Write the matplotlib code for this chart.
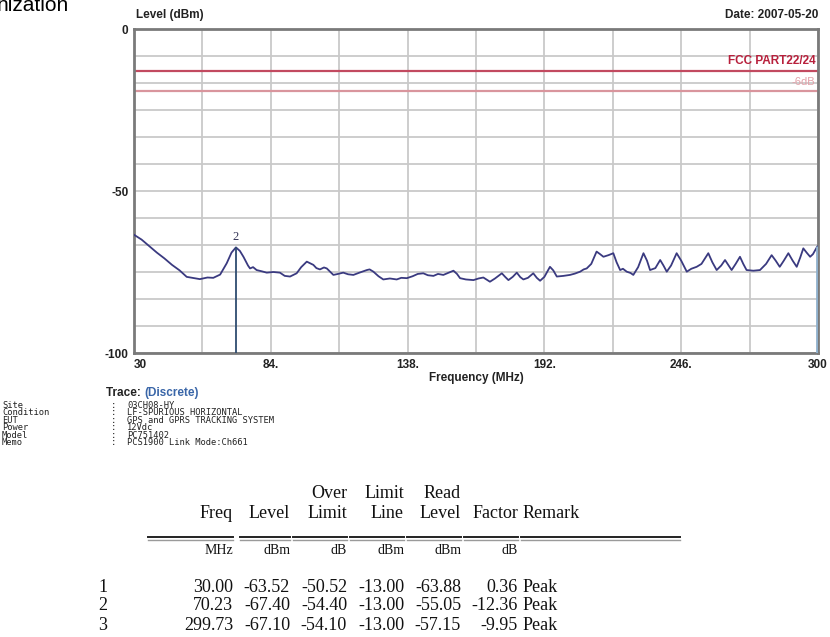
import matplotlib
matplotlib.use("Agg")
import matplotlib.pyplot as plt
import numpy as np

# ---------------- data ----------------
trace_freq = [30.0, 33, 36, 39, 42, 45, 48, 50.8, 53, 56, 59, 61.3, 64, 66.6, 68.5,
              70.23, 71.8, 73.2, 75, 75.8, 77, 78.4, 80.5, 82.4, 85, 87.6, 89.5, 91.6,
              94.2, 96, 98.2, 99.5, 100.8, 102, 103.4, 105, 106.1, 107.5, 108.7, 110.5,
              112.6, 114.5, 116.6, 119, 121.9, 123, 124.5, 126.5, 128.4, 131, 133.7,
              135.5, 137.7, 140, 142, 144.2, 146, 148.2, 150, 152.1, 154, 156.1, 157.5,
              158.7, 161, 164, 166, 167.9, 170.5, 172.5, 175.2, 176.5, 177.8, 179.5,
              181.1, 182.5, 183.7, 185.5, 187.6, 189, 190.3, 192, 194.2, 195.5, 196.9,
              199.5, 202.1, 204, 206.1, 207.5, 208.7, 210.5, 212.6, 214, 215.3, 217.3,
              219.2, 220.5, 221.9, 223, 224.5, 226, 227.1, 229, 231.1, 232.5, 233.7,
              235.8, 237.7, 239, 240.3, 242, 244.2, 246, 248.2, 250, 252.1, 254, 256.7,
              258.3, 260, 261.8, 263.3, 264.7, 265.9, 267.5, 269.2, 270.5, 271.8, 274.5,
              277.1, 279.5, 281.7, 283.3, 284.9, 286.5, 288.3, 290, 291.6, 293, 294.2,
              295.5, 296.9, 298, 299.73, 300]
trace_level = [-63.5, -65.0, -67.0, -69.0, -70.8, -72.8, -74.5, -76.5, -76.8, -77.2,
               -76.7, -76.8, -75.8, -72.3, -69.0, -67.4, -68.5, -70.3, -73.0, -73.9,
               -73.5, -74.4, -74.8, -75.2, -75.0, -75.2, -76.2, -76.4, -75.4, -73.5,
               -71.8, -72.3, -72.8, -73.8, -74.2, -73.6, -73.9, -75.0, -75.9, -75.6,
               -75.2, -75.7, -75.9, -75.2, -74.4, -74.2, -74.9, -76.3, -77.3, -77.0,
               -77.3, -76.8, -76.9, -76.3, -75.6, -75.4, -76.0, -76.2, -75.6, -75.9,
               -75.3, -74.6, -75.6, -76.9, -77.3, -77.5, -77.0, -76.7, -78.0, -77.0,
               -75.4, -76.5, -77.5, -76.5, -75.2, -76.6, -77.3, -76.8, -75.4, -76.8,
               -77.7, -76.5, -73.4, -74.5, -76.4, -76.2, -75.9, -75.5, -74.9, -74.2,
               -73.9, -72.5, -68.7, -69.5, -70.3, -69.8, -69.2, -72.0, -74.4, -74.0,
               -74.9, -75.3, -75.9, -73.5, -69.2, -71.5, -74.4, -73.8, -71.3, -73.0,
               -74.9, -73.0, -69.2, -71.5, -74.9, -74.0, -73.4, -72.5, -69.2, -72.0,
               -74.4, -73.0, -71.3, -73.0, -74.4, -72.5, -70.3, -72.5, -74.4, -74.6,
               -74.4, -72.5, -69.8, -71.5, -73.4, -71.5, -69.2, -71.5, -73.4, -70.5,
               -67.7, -69.0, -70.3, -69.5, -67.1, -67.5]

limit_level = -13.0
margin_level = -19.0  # limit minus 6 dB

x_ticks = [30, 57, 84, 111, 138, 165, 192, 219, 246, 273, 300]
x_ticklabels = ["30", "", "84.", "", "138.", "", "192.", "", "246.", "", "300"]
y_ticks = list(np.linspace(-100, 0, 13))
y_ticklabels = ["-100", "", "", "", "", "", "-50", "", "", "", "", "", "0"]

info_keys = ["Site", "Condition", "EUT", "Power", "Model", "Memo"]
info_vals = ["03CH08-HY", "LF-SPURIOUS HORIZONTAL", "GPS and GPRS TRACKING SYSTEM",
             "12Vdc", "PC751402", "PCS1900 Link Mode:Ch661"]

mk_no = ["1", "2", "3"]
mk_freq = [30.00, 70.23, 299.73]
mk_level = [-63.52, -67.40, -67.10]
mk_over = [-50.52, -54.40, -54.10]
mk_limit = [-13.00, -13.00, -13.00]
mk_read = [-63.88, -55.05, -57.15]
mk_factor = [0.36, -12.36, -9.95]
mk_remark = ["Peak", "Peak", "Peak"]

W, H = 830, 637
fig = plt.figure(figsize=(W / 100, H / 100), dpi=100)
fig.patch.set_facecolor("white")


def fx(x):
    return x / W


def fy(y):
    return 1 - y / H


L, R, T, B = 134, 818, 29, 353
ax = fig.add_axes([fx(L), fy(B), (R - L) / W, (B - T) / H])
ax.set_xlim(30, 300)
ax.set_ylim(-100, 0)

ax.set_xticks(x_ticks)
ax.set_xticklabels(x_ticklabels)
ax.set_yticks(y_ticks)
ax.set_yticklabels(y_ticklabels)
ax.tick_params(length=0, labelsize=8.5, colors="#222222", pad=4)
for t in ax.get_xticklabels() + ax.get_yticklabels():
    t.set_fontweight("bold")
    t.set_family("Liberation Sans")
ax.get_xticklabels()[0].set_ha("left")
ax.grid(True, color="#c9c9c9", lw=1.3)
ax.set_axisbelow(True)
for s in ax.spines.values():
    s.set_color("#7a7a7a")
    s.set_linewidth(2)

# limit lines
ax.axhline(limit_level, color="#c24a60", lw=1.6, zorder=2)
ax.axhline(margin_level, color="#d9959d", lw=1.6, zorder=2)
ax.text(299, limit_level + 1.2, "FCC PART22/24", color="#b8203c", ha="right",
        va="bottom", fontsize=8.5, fontweight="bold", family="Liberation Sans")
ax.text(299, margin_level + 1.0, "-6dB", color="#e3a0a8", ha="right",
        va="bottom", fontsize=8, family="Liberation Sans")

# trace
ax.plot(trace_freq, trace_level, color="#3a3a80", lw=1.3, zorder=3)

# marker lines
ax.vlines(mk_freq[1], -100, mk_level[1], color="#2e4c70", lw=1.3, zorder=3)
ax.text(mk_freq[1], mk_level[1] + 1.2, mk_no[1], ha="center", va="bottom",
        fontsize=9, family="Liberation Serif", color="#333355")
ax.vlines(mk_freq[2], -100, mk_level[2], color="#8fb0cc", lw=2.0, zorder=3)

ax.set_xlabel("Frequency (MHz)", fontsize=8.5, fontweight="bold",
              family="Liberation Sans", labelpad=1, color="#222222")

fig.text(fx(136), fy(15), "Level (dBm)", fontsize=8.5, fontweight="bold",
         family="Liberation Sans", va="center", ha="left", color="#222222")
fig.text(fx(818), fy(15), "Date: 2007-05-20", fontsize=8.5, fontweight="bold",
         family="Liberation Sans", va="center", ha="right", color="#222222")
fig.text(fx(-3), fy(11), "nization", fontsize=15, family="Liberation Sans",
         va="baseline", ha="left", color="#000000")

# trace caption
t1 = fig.text(fx(106), fy(393), "Trace: ", fontsize=8.5, fontweight="bold",
              family="Liberation Sans", va="center", ha="left", color="#222222")
fig.canvas.draw()
bb = t1.get_window_extent()
fig.text(bb.x1 / W, fy(393), "(Discrete)", fontsize=8.5, fontweight="bold",
         family="Liberation Sans", va="center", ha="left", color="#3a66a8")

# info block
for i, (k, v) in enumerate(zip(info_keys, info_vals)):
    y = 405.5 + i * 7.4
    fig.text(fx(2), fy(y), k, fontsize=6.3, family="DejaVu Sans Mono",
             va="center", ha="left", color="#222222")
    fig.text(fx(111), fy(y), ":", fontsize=6.3, family="DejaVu Sans Mono",
             va="center", ha="left", color="#222222")
    fig.text(fx(127), fy(y), v, fontsize=6.3, family="DejaVu Sans Mono",
             va="center", ha="left", color="#222222")

# results table
tf = dict(fontsize=13, family="Liberation Serif", color="#111111", va="center")
col_right = [233, 290, 347, 404, 461, 518]
head1 = ["", "", "Over", "Limit", "Read", ""]
head2 = ["Freq", "Level", "Limit", "Line", "Level", "Factor"]
units = ["MHz", "dBm", "dB", "dBm", "dBm", "dB"]
for xr, a, b, u in zip(col_right, head1, head2, units):
    fig.text(fx(xr), fy(494), a, ha="right", **tf)
    fig.text(fx(xr), fy(513), b, ha="right", **tf)
    fig.text(fx(xr), fy(551), u, ha="right", fontsize=10, family="Liberation Serif",
             color="#111111", va="center")
fig.text(fx(523), fy(513), "Remark", ha="left", **tf)

rule_spans = [(148, 233), (240, 290), (293, 347), (350, 404), (407, 461),
              (464, 518), (521, 680)]
for x0, x1 in rule_spans:
    fig.add_artist(plt.Line2D([fx(x0), fx(x1)], [fy(537), fy(537)],
                              color="#222222", lw=1.4, transform=fig.transFigure))
    fig.add_artist(plt.Line2D([fx(x0), fx(x1)], [fy(539.5), fy(539.5)],
                              color="#9a9a9a", lw=1.0, transform=fig.transFigure))

for i in range(len(mk_no)):
    y = 587 + i * 19
    vals = [f"{mk_freq[i]:.2f}", f"{mk_level[i]:.2f}", f"{mk_over[i]:.2f}",
            f"{mk_limit[i]:.2f}", f"{mk_read[i]:.2f}", f"{mk_factor[i]:.2f}"]
    fig.text(fx(103), fy(y), mk_no[i], ha="center", **tf)
    for xr, v in zip(col_right, vals):
        fig.text(fx(xr), fy(y), v, ha="right", **tf)
    fig.text(fx(523), fy(y), mk_remark[i], ha="left", **tf)

fig.savefig("out.png", dpi=100)
